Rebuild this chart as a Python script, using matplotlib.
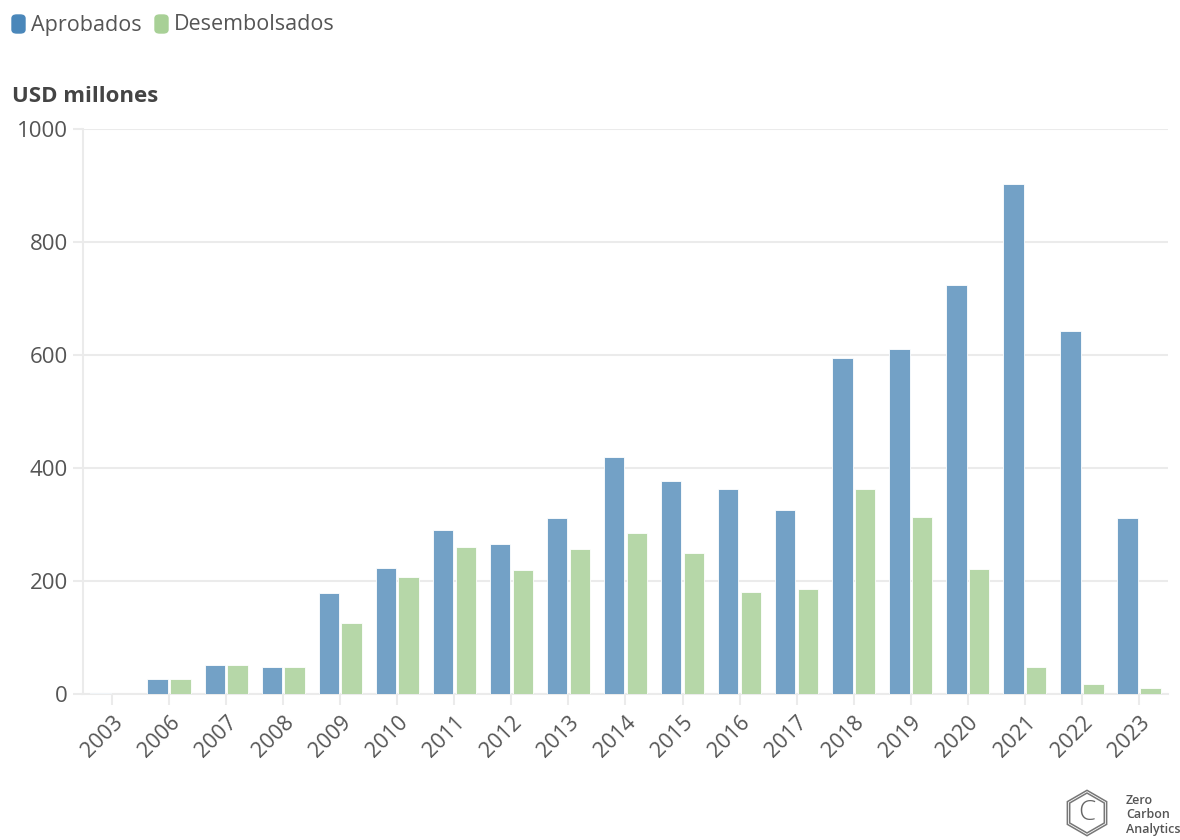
#!/usr/bin/env python3
"""Approved vs disbursed financing per year (USD millones)."""

import matplotlib.pyplot as plt
import numpy as np
from matplotlib.patches import FancyBboxPatch, RegularPolygon

YEARS = ["2003", "2006", "2007", "2008", "2009", "2010", "2011", "2012", "2013", "2014",
         "2015", "2016", "2017", "2018", "2019", "2020", "2021", "2022", "2023"]
APROBADOS = [1, 27, 51, 48, 179, 223, 290, 265, 312, 420,
             377, 362, 325, 594, 611, 724, 902, 643, 311]
DESEMBOLSADOS = [0, 27, 51, 48, 126, 207, 261, 219, 256, 285,
                 249, 180, 186, 363, 314, 221, 48, 18, 11]
Y_TICKS = [0, 200, 400, 600, 800, 1000]

COLORS = {
    "aprobados": "#73a1c6",
    "desembolsados": "#b6d7a8",
    "legend_aprobados": "#4a87ba",
    "legend_desembolsados": "#a8d096",
    "grid": "#ebebeb",
    "text": "#555555",
}

plt.rcParams["font.family"] = ["Open Sans", "DejaVu Sans"]

W, H = 1180, 840
fig = plt.figure(figsize=(W / 100, H / 100), dpi=100)
ax = fig.add_axes([83 / W, 1 - 694 / H, (1168 - 83) / W, (694 - 129) / H])

x = np.arange(len(YEARS))
width = 0.36
offset = 0.2
ax.bar(x - offset, APROBADOS, width=width, color=COLORS["aprobados"],
       edgecolor="white", linewidth=0.6, zorder=3)
ax.bar(x + offset, DESEMBOLSADOS, width=width, color=COLORS["desembolsados"],
       edgecolor="white", linewidth=0.6, zorder=3)

ax.set_xlim(-0.51, len(YEARS) - 1 + 0.51)
ax.set_ylim(0, 1000)
ax.set_yticks(Y_TICKS)
ax.set_yticklabels([str(v) for v in Y_TICKS], fontsize=16, color=COLORS["text"])
ax.set_xticks(x)
ax.set_xticklabels(YEARS, rotation=45, ha="right", rotation_mode="anchor",
                   fontsize=15.5, color=COLORS["text"])
ax.tick_params(axis="y", length=7, color=COLORS["grid"], width=1.5, pad=4)
ax.tick_params(axis="x", length=8, color=COLORS["grid"], width=1.5, pad=5)
ax.grid(axis="y", color=COLORS["grid"], linewidth=1.5, zorder=0)
for side in ("top", "right"):
    ax.spines[side].set_visible(False)
for side in ("left", "bottom"):
    ax.spines[side].set_color(COLORS["grid"])
    ax.spines[side].set_linewidth(1.5)

# legend drawn as rounded swatches + text
for x0, label, key in [(12, "Aprobados", "legend_aprobados"),
                       (155, "Desembolsados", "legend_desembolsados")]:
    fig.patches.append(FancyBboxPatch((x0 / W, 1 - 33 / H), 13 / W, 18 / H,
                                      boxstyle="round,pad=0,rounding_size=0.004",
                                      transform=fig.transFigure,
                                      color=COLORS[key]))
    fig.text((x0 + 19) / W, 1 - 25 / H, label, fontsize=15.5,
             color=COLORS["text"], va="center", ha="left")

fig.text(12 / W, 1 - 96 / H, "USD millones", fontsize=16, fontweight="bold",
         color="#444444", va="center", ha="left")

# logo: small equal-aspect axes holding two hexagons and a "C"
logo = fig.add_axes([1060 / W, 1 - 840 / H, 54 / W, 54 / H])
logo.set_xlim(-1, 1)
logo.set_ylim(-1, 1)
logo.set_aspect("equal")
logo.axis("off")
for r in (0.84, 0.74):
    logo.add_patch(RegularPolygon((0, 0), 6, radius=r, orientation=0,
                                  fill=False, edgecolor="#777777", linewidth=1.1))
logo.text(0, 0, "C", fontsize=20, color="#666666", ha="center", va="center",
          fontweight="light")
fig.text(1126 / W, 1 - 815 / H, "Zero\nCarbon\nAnalytics", fontsize=9,
         fontweight="semibold", color="#555555", ha="left", va="center",
         linespacing=1.15)

fig.savefig("out.png", dpi=100)
